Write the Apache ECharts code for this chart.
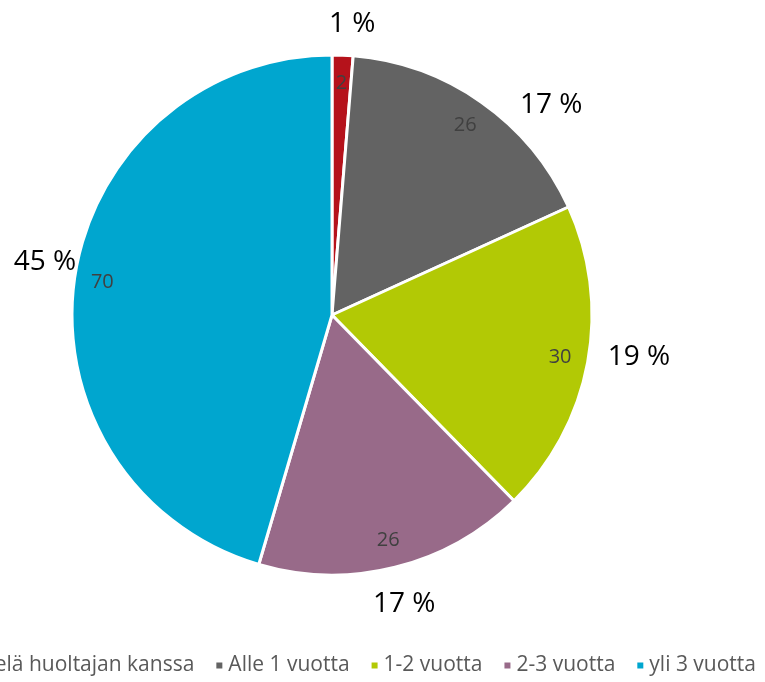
<!DOCTYPE html>
<html><head><meta charset="utf-8">
<script src="https://cdn.jsdelivr.net/npm/echarts@6/dist/echarts.min.js"></script>
<style>html,body{margin:0;padding:0;background:#fff}#c{width:765px;height:682px}</style>
</head><body><div id="c"></div>
<script>
const categories = ['Vielä huoltajan kanssa', 'Alle 1 vuotta', '1-2 vuotta', '2-3 vuotta', 'yli 3 vuotta'];
const values = [2, 26, 30, 26, 70];
const colors = ['#B5121B', '#636363', '#B2C905', '#986A89', '#00A6CF'];

const FONT = '"Open Sans", sans-serif';
const total = values.reduce((a, b) => a + b, 0);
const CENTER = [332, 315];
const base = { type: 'pie', center: CENTER, startAngle: 90, clockwise: true, animation: false };
const pctShift = [{ dx: 8, dy: 7 }, { dx: 48, dy: 34 }, { dx: 14, dy: -12 }, {}, { dx: 8, dy: -11 }];

const chart = echarts.init(document.getElementById('c'));
chart.setOption({
  animation: false,
  legend: {
    right: 4, top: 650, width: 1400,
    icon: 'rect', itemWidth: 8, itemHeight: 8, itemGap: 20,
    textStyle: { fontFamily: FONT, fontSize: 21, color: '#595959' },
    data: categories
  },
  series: [
    Object.assign({}, base, {
      radius: [0, 260],
      itemStyle: { borderColor: '#fff', borderWidth: 3 },
      label: { show: false }, labelLine: { show: false },
      emphasis: { disabled: true },
      data: categories.map((n, i) => ({ name: n, value: values[i], itemStyle: { color: colors[i] } }))
    }),
    Object.assign({}, base, {
      radius: [200, 258], silent: true, legendHoverLink: false,
      itemStyle: { color: 'rgba(0,0,0,0)', borderWidth: 0 },
      label: { show: true, position: 'inside', fontFamily: FONT, fontSize: 20, color: '#404040', formatter: p => p.value },
      labelLine: { show: false },
      emphasis: { disabled: true },
      data: categories.map((n, i) => ({ name: n, value: values[i] }))
    }),
    Object.assign({}, base, {
      radius: [270, 320], silent: true, legendHoverLink: false,
      itemStyle: { color: 'rgba(0,0,0,0)', borderWidth: 0 },
      label: {
        show: true, position: 'inside', fontFamily: FONT, fontSize: 28, color: '#000',
        formatter: p => Math.round(p.value / total * 100) + ' %'
      },
      labelLine: { show: false },
      labelLayout: p => pctShift[p.dataIndex] || {},
      emphasis: { disabled: true },
      data: categories.map((n, i) => ({ name: n, value: values[i] }))
    })
  ]
});
</script></body></html>
